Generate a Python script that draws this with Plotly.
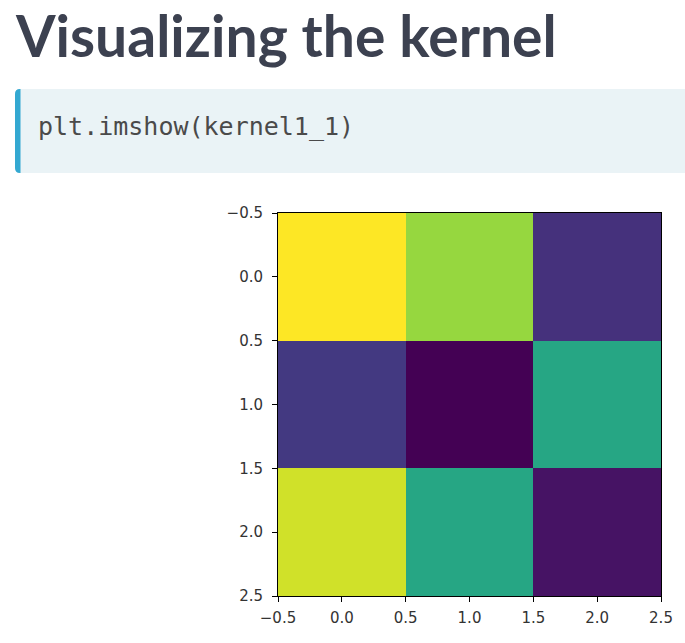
import plotly.graph_objects as go

W, H = 685, 643

# data
rows = [0, 1, 2]
cols = [0, 1, 2]
kernel = [
    [1.00, 0.84, 0.14],
    [0.17, 0.00, 0.59],
    [0.93, 0.59, 0.05],
]
tick_vals = [-0.5, 0.0, 0.5, 1.0, 1.5, 2.0, 2.5]
tick_text = ["\u22120.5", "0.0", "0.5", "1.0", "1.5", "2.0", "2.5"]
title_text = "Visualizing the kernel"
code_text = "plt.imshow(kernel1_1)"

# plot area in pixels
px0, px1 = 278, 661
py0, py1 = 213, 596

def fx(p):
    return p / W

def fy(p):
    return 1 - p / H

fig = go.Figure(go.Heatmap(
    z=kernel, x=cols, y=rows,
    colorscale="Viridis", zmin=0, zmax=1,
    showscale=False, hoverinfo="skip",
))

axis_common = dict(
    tickvals=tick_vals, ticktext=tick_text,
    ticks="outside", ticklen=5, tickwidth=1, tickcolor="#000",
    showline=True, linecolor="#000", linewidth=1, mirror=True,
    showgrid=False, zeroline=False, automargin=False,
    tickfont=dict(family="DejaVu Sans", size=15, color="#333333"),
)

fig.update_layout(
    width=W, height=H,
    margin=dict(l=0, r=0, t=0, b=0, autoexpand=False),
    paper_bgcolor="white", plot_bgcolor="white",
    xaxis=dict(range=[-0.5, 2.5], domain=[fx(px0), fx(px1)],
               ticklabelstandoff=3, **axis_common),
    yaxis=dict(range=[2.5, -0.5], domain=[fy(py1), fy(py0)],
               ticklabelstandoff=6, **axis_common),
    showlegend=False,
)

# code box background
bx0, bx1, by0, by1 = 15, 685, 89, 173
r = 5
path = (f"M {fx(bx0 + r)},{fy(by0)} L {fx(bx1)},{fy(by0)} L {fx(bx1)},{fy(by1)} "
        f"L {fx(bx0 + r)},{fy(by1)} Q {fx(bx0)},{fy(by1)} {fx(bx0)},{fy(by1 - r)} "
        f"L {fx(bx0)},{fy(by0 + r)} Q {fx(bx0)},{fy(by0)} {fx(bx0 + r)},{fy(by0)} Z")
fig.add_shape(type="path", xref="paper", yref="paper", path=path,
              fillcolor="#eaf3f6", line=dict(width=0), layer="below")
bw = 5.5
path2 = (f"M {fx(bx0 + r)},{fy(by0)} L {fx(bx0 + bw)},{fy(by0)} L {fx(bx0 + bw)},{fy(by1)} "
         f"L {fx(bx0 + r)},{fy(by1)} Q {fx(bx0)},{fy(by1)} {fx(bx0)},{fy(by1 - r)} "
         f"L {fx(bx0)},{fy(by0 + r)} Q {fx(bx0)},{fy(by0)} {fx(bx0 + r)},{fy(by0)} Z")
fig.add_shape(type="path", xref="paper", yref="paper", path=path2,
              fillcolor="#33a8d1", line=dict(width=0), layer="below")

fig.add_annotation(
    text=f"<b>{title_text}</b>", xref="paper", yref="paper",
    x=fx(14), y=fy(35), xanchor="left", yanchor="middle", showarrow=False,
    borderpad=0,
    font=dict(family="Lato", size=57, color="#3c4150"),
)
fig.add_annotation(
    text=code_text, xref="paper", yref="paper",
    x=fx(36), y=fy(127), xanchor="left", yanchor="middle", showarrow=False,
    font=dict(family="DejaVu Sans Mono", size=25, color="#4a4a4a"),
)

fig.write_html("out.html")
